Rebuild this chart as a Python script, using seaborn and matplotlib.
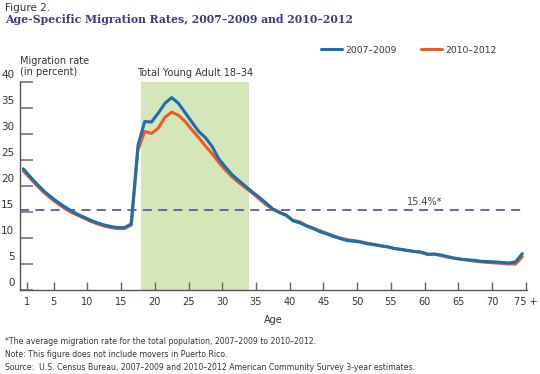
import numpy as np
import pandas as pd
import seaborn as sns
import matplotlib.pyplot as plt
from matplotlib.lines import Line2D
from matplotlib.transforms import ScaledTranslation

# data (percent), ages 1..75 (75 = 75+)
ages = list(range(1, 76))
rate_0709 = [23.3, 21.8, 20.4, 19.1, 18.0, 17.0, 16.1, 15.3, 14.6, 14.0,
             13.4, 12.9, 12.5, 12.2, 12.0, 12.0, 12.7, 27.8, 32.4, 32.3,
             34.0, 35.9, 37.0, 35.9, 34.1, 32.3, 30.5, 29.3, 27.6, 25.2,
             23.6, 22.1, 21.0, 19.9, 18.8, 17.8, 16.7, 15.6, 14.9, 14.4,
             13.3, 12.9, 12.3, 11.8, 11.2, 10.8, 10.3, 9.9, 9.5, 9.4,
             9.2, 8.9, 8.7, 8.5, 8.3, 8.0, 7.8, 7.6, 7.4, 7.3,
             6.9, 6.9, 6.7, 6.4, 6.1, 5.9, 5.8, 5.7, 5.5, 5.45,
             5.4, 5.3, 5.2, 5.4, 7.0]
rate_1012 = [22.9, 21.5, 20.1, 18.8, 17.7, 16.7, 15.8, 15.0, 14.4, 13.8,
             13.2, 12.7, 12.3, 12.0, 11.8, 11.8, 12.5, 26.9, 30.5, 30.1,
             31.1, 33.2, 34.2, 33.6, 32.4, 30.8, 29.3, 27.7, 26.2, 24.5,
             23.0, 21.7, 20.6, 19.6, 18.6, 17.5, 16.4, 15.5, 14.9, 14.3,
             13.4, 13.1, 12.4, 11.9, 11.4, 10.9, 10.4, 10.0, 9.7, 9.5,
             9.3, 9.0, 8.8, 8.5, 8.3, 8.0, 7.8, 7.6, 7.4, 7.2,
             6.8, 6.9, 6.6, 6.3, 6.1, 5.9, 5.7, 5.5, 5.4, 5.3,
             5.2, 5.1, 5.0, 5.0, 6.4]
periods = ["2007\u20132009", "2010\u20132012"]
avg_rate = 15.4
young_adult = (18, 34)
xticks = [1, 5, 10, 15, 20, 25, 30, 35, 40, 45, 50, 55, 60, 65, 70, 75]
xticklabels = [str(t) for t in xticks[:-1]] + ["75 +"]
yticks = [0, 5, 10, 15, 20, 25, 30, 35, 40]

colors = {periods[0]: "#1b6fae", periods[1]: "#ef5a28"}

#long-form table for seaborn
df = pd.DataFrame({
    "age": ages * 2,
    "rate": rate_0709 + rate_1012,
    "period": [periods[0]] * len(ages) + [periods[1]] * len(ages),
})
df["xpos"] = df["age"] - 0.5

sns.set_style("white")
plt.rcParams["font.family"] = ["DejaVu Sans"]

fig = plt.figure(figsize=(5.4, 3.74), dpi=100)
ax = fig.add_axes([0.037, 0.2246, 0.939, 0.5562])

ax.axvspan(young_adult[0], young_adult[1], ymax=1.01, color="#d5e7b8", lw=0, zorder=0)
ax.axhline(avg_rate, xmax=0.995, color="#5c5c9e", lw=1.3, ls=(0, (5, 3.5)), zorder=1)

sns.lineplot(data=df, x="xpos", y="rate", hue="period", hue_order=periods[::-1],
             palette=colors, lw=2.2, ax=ax, legend=False, zorder=3)

ax.set_xlim(0, 75.2)
ax.set_ylim(0, 40)
ax.set_xticks(xticks)
ax.set_xticklabels(xticklabels)
ax.set_yticks(yticks)
ax.set_xlabel("Age", fontsize=7, color="#333333", labelpad=6)
ax.set_ylabel("")
ax.tick_params(axis="x", bottom=True, direction="in", length=6, width=1, color="#666666",
               labelsize=7, labelcolor="#333333", pad=5)
ax.tick_params(axis="y", left=True, direction="in", length=9, width=1.2, color="#777777",
               labelsize=7.5, labelcolor="#333333", pad=4)
for lab in ax.get_yticklabels():
    lab.set_transform(lab.get_transform() + ScaledTranslation(0, 6 / 72, fig.dpi_scale_trans))
for side in ["top", "right"]:
    ax.spines[side].set_visible(False)
for side in ["left", "bottom"]:
    ax.spines[side].set_color("#555555")
    ax.spines[side].set_linewidth(1)

ax.text(26, 40.8, "Total Young Adult 18\u201334", ha="center", va="bottom",
        fontsize=7, color="#333333")
ax.text(60, 16.0, "15.4%*", ha="center", va="bottom", fontsize=7, color="#444444")

# legend
handles = [Line2D([], [], color=colors[p], lw=2.2) for p in periods]
fig.legend(handles, periods, loc="center right", bbox_to_anchor=(0.935, 0.866),
           ncol=2, frameon=False, fontsize=6.6, handlelength=2.3, handletextpad=0.4,
           columnspacing=2.6, labelcolor="#333333")

fig.text(0.0093, 0.992, "Figure 2.", fontsize=7.5, color="#333333", va="top")
fig.text(0.0093, 0.962, "Age-Specific Migration Rates, 2007\u20132009 and 2010\u20132012",
         fontsize=7.8, color="#3a3a8e", fontweight="bold", family="DejaVu Serif", va="top")
fig.text(0.037, 0.85, "Migration rate\n(in percent)", fontsize=7, color="#333333",
         va="top", linespacing=1.15)

notes = ["*The average migration rate for the total population, 2007\u20132009 to 2010\u20132012.",
         "Note: This figure does not include movers in Puerto Rico.",
         "Source:  U.S. Census Bureau, 2007\u20132009 and 2010\u20132012 American Community Survey 3-year estimates."]
for i, n in enumerate(notes):
    fig.text(0.0093, 0.088 - i * 0.035, n, fontsize=5.6, color="#333333", va="center")

fig.savefig("out.png", dpi=100)
